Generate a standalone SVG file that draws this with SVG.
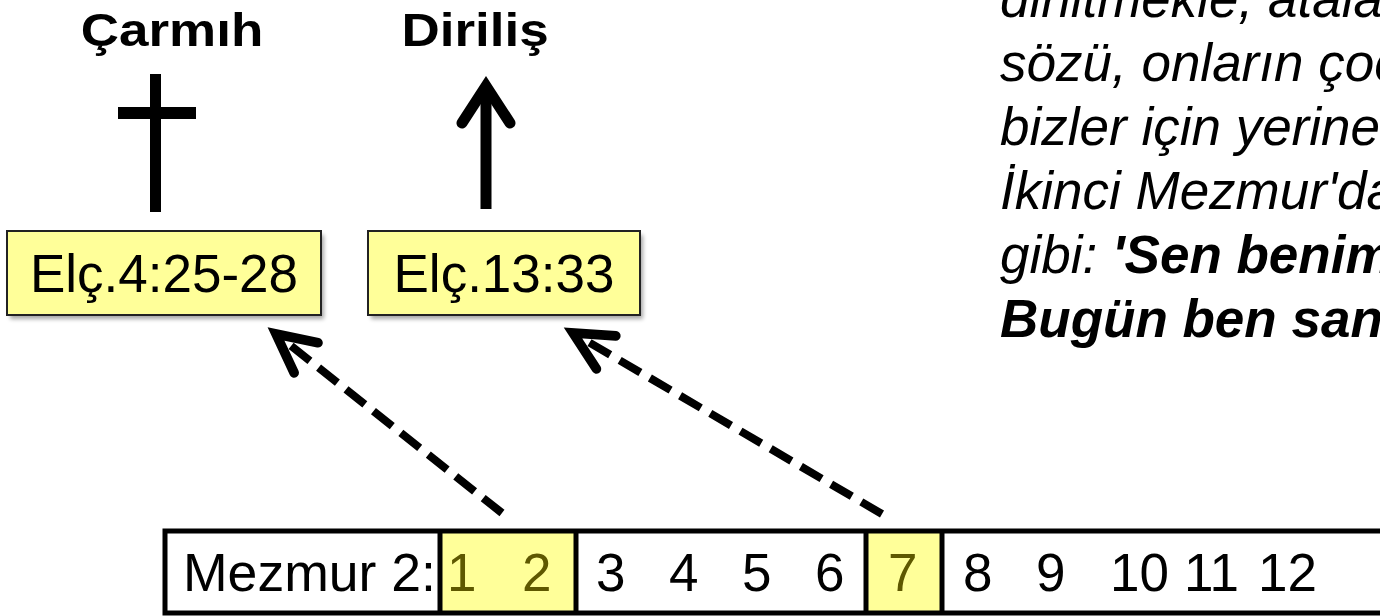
<svg xmlns="http://www.w3.org/2000/svg" width="1380" height="616" viewBox="0 0 1380 616">
<style>
.title{font-family:"Liberation Sans",Arial,sans-serif;font-weight:bold;font-size:53px;fill:#000;text-anchor:middle}
.ref{font-family:"Liberation Sans",Arial,sans-serif;font-size:53px;fill:#000;text-anchor:middle}
.quote{font-family:"Liberation Sans",Arial,sans-serif;font-style:italic;font-size:53px;fill:#000}
.num{font-family:"Liberation Sans",Arial,sans-serif;font-size:53px;fill:#000}
.hl{fill:#5e5800}
.box{fill:#ffff99;stroke:#222;stroke-width:2}
.shadow{fill:#000;opacity:0.35;filter:url(#blur)}
.cell{stroke:#000;stroke-width:5}
.conn{fill:none;stroke:#000;stroke-width:8;stroke-dasharray:24 11;marker-end:url(#head)}
</style>
<defs>
<filter id="blur" x="-10%" y="-10%" width="120%" height="130%"><feGaussianBlur stdDeviation="2"/></filter>
<marker id="head" markerUnits="userSpaceOnUse" orient="auto" markerWidth="60" markerHeight="60" refX="0" refY="0" viewBox="-40 -25 50 50" overflow="visible">
<path d="M-32,-16 L0,0 L-32,16" fill="none" stroke="#000" stroke-width="8" stroke-linecap="round" stroke-linejoin="miter" stroke-dasharray="none"/>
</marker>
</defs>

<g id="title-carmih"><text class="title" transform="translate(172,46) scale(1,0.86)">Çarmıh</text></g>
<g id="title-dirilis"><text class="title" transform="translate(475,46) scale(1,0.86)">Diriliş</text></g>

<g id="cross">
<rect x="150" y="74" width="11" height="138" fill="#000"/>
<rect x="118" y="107" width="78" height="12" fill="#000"/>
</g>

<g id="up-arrow">
<line x1="486" y1="209" x2="486" y2="90" stroke="#000" stroke-width="11"/>
<polyline points="462,123 486,86 510,123" fill="none" stroke="#000" stroke-width="11" stroke-linecap="round" stroke-linejoin="miter"/>
</g>

<g id="box-elc4">
<rect class="shadow" x="10" y="235" width="314" height="84"/>
<rect class="box" x="7" y="231" width="314" height="84"/>
<text class="ref" x="164" y="292">Elç.4:25-28</text>
</g>
<g id="box-elc13">
<rect class="shadow" x="371" y="235" width="272" height="84"/>
<rect class="box" x="368" y="231" width="272" height="84"/>
<text class="ref" x="504" y="292">Elç.13:33</text>
</g>

<g id="quote">
<text class="quote" x="1000" y="17">diriltmekle, atala</text>
<text class="quote" x="1000" y="81">sözü, onların çoc</text>
<text class="quote" x="1000" y="145">bizler için yerine</text>
<text class="quote" x="1000" y="209">İkinci Mezmur'da</text>
<text class="quote" x="1000" y="273">gibi: <tspan font-weight="bold">'Sen benim</tspan></text>
<text class="quote" x="1000" y="337" font-weight="bold">Bugün ben san</text>
</g>

<g id="psalm-bar">
<rect x="165" y="531" width="1230" height="82" fill="#fff"/>
<rect x="440" y="531" width="136" height="82" fill="#ffff99"/>
<rect x="866" y="531" width="76" height="82" fill="#ffff99"/>
<line class="cell" x1="440" y1="531" x2="440" y2="613"/>
<line class="cell" x1="576" y1="531" x2="576" y2="613"/>
<line class="cell" x1="866" y1="531" x2="866" y2="613"/>
<line class="cell" x1="942" y1="531" x2="942" y2="613"/>
<rect x="165" y="531" width="1230" height="82" fill="none" stroke="#000" stroke-width="5"/>
<text class="num" x="183" y="591" textLength="253" lengthAdjust="spacingAndGlyphs">Mezmur 2:</text>
<text class="num hl" x="447" y="591">1</text>
<text class="num hl" x="522" y="591">2</text>
<text class="num" x="596" y="591">3</text>
<text class="num" x="669" y="591">4</text>
<text class="num" x="742" y="591">5</text>
<text class="num" x="815" y="591">6</text>
<text class="num hl" x="888" y="591">7</text>
<text class="num" x="963" y="591">8</text>
<text class="num" x="1036" y="591">9</text>
<text class="num" x="1110" y="591">10</text>
<text class="num" x="1184" y="591">11</text>
<text class="num" x="1258" y="591">12</text>
</g>

<g id="connectors">
<path class="conn" d="M502,513 L276,334"/>
<path class="conn" d="M882,514 L573,333"/>
</g>
</svg>
